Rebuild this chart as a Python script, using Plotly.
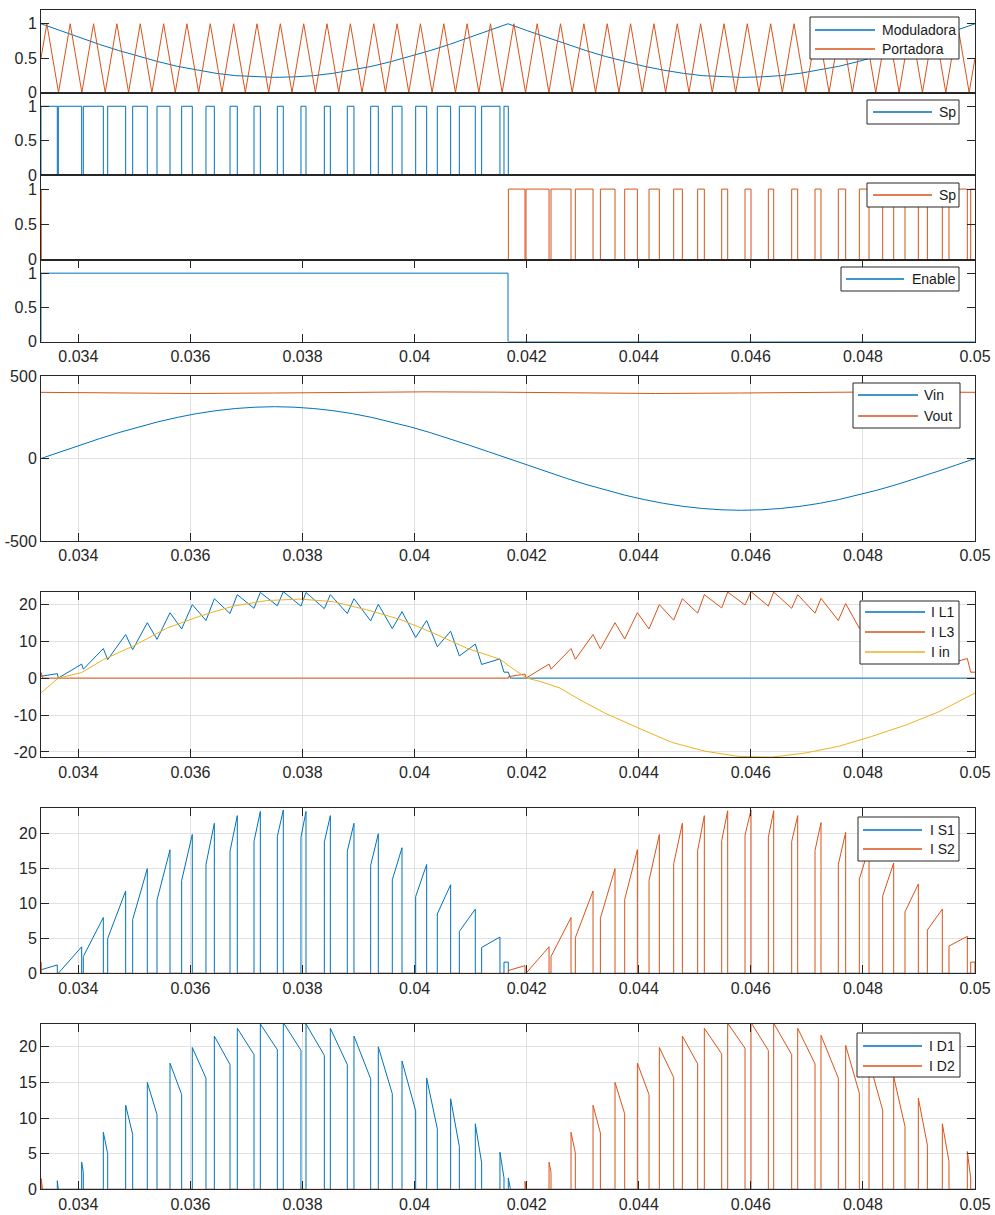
import plotly.graph_objects as go

# ------------------------------------------------------------------ data
T_START = 0.033333
T_END = 0.05

x_tick_vals = [0.034, 0.036, 0.038, 0.04, 0.042, 0.044, 0.046, 0.048, 0.05]
x_tick_text = ["0.034", "0.036", "0.038", "0.04", "0.042", "0.044", "0.046", "0.048", "0.05"]

# sample times used for the slow sinusoidal signals (read every 1/48 of the grid period)
slow_t = [0.033333, 0.033681, 0.034028, 0.034375, 0.034722, 0.035069, 0.035417, 0.035764,
          0.036111, 0.036458, 0.036806, 0.037153, 0.0375, 0.037847, 0.038194, 0.038542,
          0.038889, 0.039236, 0.039583, 0.039931, 0.040278, 0.040625, 0.040972, 0.041319,
          0.041667, 0.042014, 0.042361, 0.042708, 0.043056, 0.043403, 0.04375, 0.044097,
          0.044444, 0.044792, 0.045139, 0.045486, 0.045833, 0.046181, 0.046528, 0.046875,
          0.047222, 0.047569, 0.047917, 0.048264, 0.048611, 0.048958, 0.049306, 0.049653, 0.05]

# Panel 1: modulating signal and triangular carrier
moduladora = [1.0, 0.898, 0.80, 0.70, 0.61, 0.525, 0.45, 0.381, 0.325, 0.279, 0.245, 0.227,
              0.22, 0.227, 0.245, 0.279, 0.325, 0.381, 0.45, 0.525, 0.61, 0.70, 0.80, 0.898,
              1.0, 0.898, 0.80, 0.70, 0.61, 0.525, 0.45, 0.381, 0.325, 0.279, 0.245, 0.227,
              0.22, 0.227, 0.245, 0.279, 0.325, 0.381, 0.45, 0.525, 0.61, 0.70, 0.80, 0.898, 1.0]
carrier_start = 0.5
carrier_end = 0.5
carrier_peak_t = [0.033437, 0.033854, 0.034271, 0.034687, 0.035104, 0.035521, 0.035937,
                  0.036354, 0.036771, 0.037187, 0.037604, 0.038021, 0.038437, 0.038854,
                  0.039271, 0.039687, 0.040104, 0.040521, 0.040937, 0.041354, 0.041771,
                  0.042187, 0.042604, 0.043021, 0.043437, 0.043854, 0.044271, 0.044687,
                  0.045104, 0.045521, 0.045937, 0.046354, 0.046771, 0.047187, 0.047604,
                  0.048021, 0.048437, 0.048854, 0.049271, 0.049687]
carrier_trough_t = [0.033646, 0.034062, 0.034479, 0.034896, 0.035312, 0.035729, 0.036146,
                    0.036562, 0.036979, 0.037396, 0.037812, 0.038229, 0.038646, 0.039062,
                    0.039479, 0.039896, 0.040312, 0.040729, 0.041146, 0.041562, 0.041979,
                    0.042396, 0.042812, 0.043229, 0.043646, 0.044062, 0.044479, 0.044896,
                    0.045312, 0.045729, 0.046146, 0.046562, 0.046979, 0.047396, 0.047812,
                    0.048229, 0.048646, 0.049062, 0.049479, 0.049896]

# Converter leg 1 (first half cycle): switching edges (on, off, on, off ...) and inductor current there
sp1_edges = [0.033333, 0.033624, 0.033642, 0.034059, 0.034088, 0.034445, 0.034523, 0.034844,
             0.034969, 0.035230, 0.035403, 0.035635, 0.035843, 0.036033, 0.036277, 0.036426,
             0.036706, 0.036836, 0.037134, 0.037247, 0.037550, 0.037657, 0.037972, 0.038062,
             0.038389, 0.038496, 0.038799, 0.038918, 0.039216, 0.039352, 0.039602, 0.039775,
             0.040019, 0.040215, 0.040405, 0.040643, 0.040798, 0.041083, 0.041196, 0.041523,
             0.041595, 0.041672]
il1_at_edges = [0.5, 1.2, 0.0, 3.8, 2.4, 8.0, 5.0, 11.8, 7.7, 15.0, 10.5, 17.7, 13.3, 19.9,
                15.6, 21.5, 17.5, 22.6, 18.9, 23.2, 19.6, 23.4, 19.5, 23.2, 18.8, 22.6, 17.5,
                21.5, 15.5, 20.0, 13.4, 18.0, 11.0, 15.6, 8.5, 12.7, 6.0, 9.2, 3.7, 5.2, 1.6, 1.6]
il1_zero_t = 0.04171          # inductor 1 current reaches zero after the last turn-off

# Converter leg 2 (second half cycle)
sp2_head_edges = [0.033333, 0.033336]   # tail of the previous pulse at the left edge
il3_head = [1.6, 1.5]
il3_head_zero_t = 0.03336
sp2_edges = [0.041673, 0.041970, 0.041988, 0.042399, 0.042434, 0.042791, 0.042868, 0.043184,
             0.043315, 0.043576, 0.043749, 0.043975, 0.044183, 0.044367, 0.044623, 0.044778,
             0.045051, 0.045170, 0.045480, 0.045587, 0.045896, 0.046003, 0.046312, 0.046408,
             0.046729, 0.046836, 0.047145, 0.047252, 0.047561, 0.047692, 0.047936, 0.048109,
             0.048353, 0.048549, 0.048751, 0.048989, 0.049150, 0.049417, 0.049536, 0.049863,
             0.049923]
il3_at_edges = [0.4, 1.1, 0.0, 3.8, 2.4, 8.0, 5.1, 11.8, 7.9, 15.0, 10.6, 17.7, 13.3, 19.9,
                15.7, 21.5, 17.6, 22.6, 19.0, 23.3, 19.8, 23.4, 19.5, 23.3, 18.9, 22.6, 17.6,
                21.6, 15.6, 20.2, 13.5, 18.0, 11.1, 15.8, 8.8, 12.8, 6.2, 9.2, 3.9, 5.3, 1.6]
il3_end = 1.6

# Panel 4: enable
enable_t = [0.033333, 0.041667]
enable_v = [1, 0]

# Panel 5: voltages
vin = [0, 41, 81, 120, 157, 191, 222, 249, 272, 290, 303, 311, 314, 311, 303, 290, 272, 249,
       222, 191, 157, 120, 81, 41, 0, -41, -81, -120, -157, -191, -222, -249, -272, -290,
       -303, -311, -314, -311, -303, -290, -272, -249, -222, -191, -157, -120, -81, -41, 0]
vout_t = [0.033333, 0.0345, 0.036, 0.0375, 0.039, 0.0402, 0.0415, 0.043, 0.0443,
          0.0458, 0.0473, 0.0485, 0.05]
vout = [401, 397, 394, 397, 402, 404, 402, 397, 394, 397, 402, 404, 401]

# Panel 6: input current
iin_t = [0.033333, 0.033494, 0.033642, 0.034059, 0.034445, 0.034980, 0.035576, 0.036170,
         0.036765, 0.037361, 0.037955, 0.038549, 0.039145, 0.039740, 0.040334, 0.040930,
         0.041524, 0.041702, 0.041881, 0.042000, 0.042238, 0.042595, 0.042952, 0.043398,
         0.043992, 0.044588, 0.045182, 0.045777, 0.046372, 0.046967, 0.047561, 0.048156,
         0.048751, 0.049345, 0.05]
iin = [-4.0, -2.0, 0.0, 1.5, 5.0, 8.7, 13.5, 16.8, 19.5, 21.0, 21.4, 20.7, 18.5, 15.9, 12.2,
       8.1, 5.1, 3.1, 1.35, 0.0, -0.9, -2.7, -5.9, -9.5, -13.5, -17.4, -19.8, -21.2, -21.4,
       -20.3, -18.5, -15.8, -12.8, -9.2, -4.05]

# ------------------------------------------------------------------ styles
BLUE = "#0072BD"
ORANGE = "#D95319"
YELLOW = "#EDB120"
AX = "#262626"
GRID = "#e1e1e1"
FONT = "Liberation Sans, Arial, Helvetica, sans-serif"
W, H = 995, 1215
XL, XR = 41 / W, 975 / W

# panel (top_px, bottom_px) and y ranges
panels = [
    (10, 92.5, [0, 1.2]),
    (92.5, 175, [0, 1.2]),
    (175, 259.5, [0, 1.2]),
    (259.5, 341.5, [0, 1.2]),
    (376, 541, [-500, 500]),
    (591.7, 757.3, [-21.45, 23.4]),
    (808.3, 973.3, [0, 23.65]),
    (1024, 1189.3, [0, 23.2]),
]

# legend boxes: (left, top, right, bottom, line_x0, line_x1, text_x, [row y...]) in pixels
legend_boxes = [
    (810, 17, 959, 59, 815, 875, 880, [30, 49]),
    (867, 100, 959, 124, 873, 932, 937, [112]),
    (867, 183, 959, 207, 873, 932, 937, [195]),
    (841, 267, 959, 291, 846, 904, 910, [279]),
    (853, 383, 960, 428, 858, 918, 922, [395, 416]),
    (860, 601, 959, 664, 865, 925, 929, [612, 632, 652]),
    (858, 817, 959, 861, 863, 922, 928, [830, 849]),
    (857, 1033, 960, 1077, 863, 922, 927, [1046, 1066]),
]


# ------------------------------------------------------------------ helpers
def converter(edges, vals, dcm_zero, end_val):
    """Build inductor, switch, diode current and gate signal polylines from switching edges."""
    n = len(edges)
    il_x, il_y = [], []
    sw_x, sw_y = [T_START], [0.0]
    d_x, d_y = [T_START], [0.0]
    g_x, g_y = [T_START], [0]
    for i in range(n):
        t, v = edges[i], vals[i]
        last = i == n - 1
        t_next = T_END if last else edges[i + 1]
        il_x.append(t)
        il_y.append(v)
        if i % 2 == 0:
            v_next = end_val if last else vals[i + 1]
            sw_x += [t, t, t_next, t_next]
            sw_y += [0, v, v_next, 0]
            g_x += [t, t]
            g_y += [0, 1]
            if last:
                il_x.append(T_END)
                il_y.append(end_val)
                g_x.append(T_END)
                g_y.append(1)
        else:
            g_x += [t, t]
            g_y += [1, 0]
            if i in dcm_zero:
                tz = dcm_zero[i]
                d_x += [t, t, tz]
                d_y += [0, v, 0]
                il_x += [tz, t_next]
                il_y += [0, 0]
            else:
                v_next = vals[i + 1]
                d_x += [t, t, t_next, t_next]
                d_y += [0, v, v_next, 0]
            if last:
                g_x.append(T_END)
                g_y.append(0)
    sw_x.append(T_END)
    sw_y.append(0)
    d_x.append(T_END)
    d_y.append(0)
    return (il_x, il_y), (sw_x, sw_y), (d_x, d_y), (g_x, g_y)


convA = converter(sp1_edges, il1_at_edges, {len(sp1_edges) - 1: il1_zero_t}, 0.0)
convB = converter(sp2_head_edges + sp2_edges, il3_head + il3_at_edges, {1: il3_head_zero_t}, il3_end)

carrier_x = [T_START]
carrier_y = [carrier_start]
for p, tr in zip(carrier_peak_t, carrier_trough_t):
    carrier_x += [p, tr]
    carrier_y += [1, 0]
carrier_x.append(T_END)
carrier_y.append(carrier_end)

enable_x = [T_START, enable_t[0], enable_t[1], enable_t[1], T_END]
enable_y = [0, enable_v[0], enable_v[0], enable_v[1], enable_v[1]]

fig = go.Figure()
legend_entries = {i: [] for i in range(1, 9)}


def add(i, x, y, name, color):
    fig.add_trace(go.Scatter(
        x=x, y=y, mode="lines", name=name,
        line=dict(color=color, width=1),
        xaxis=f"x{i}", yaxis=f"y{i}",
        showlegend=False, hoverinfo="skip",
    ))
    legend_entries[i].append((name, color))


add(1, slow_t, moduladora, "Moduladora", BLUE)
add(1, carrier_x, carrier_y, "Portadora", ORANGE)
add(2, convA[3][0], convA[3][1], "Sp", BLUE)
add(3, convB[3][0], convB[3][1], "Sp", ORANGE)
add(4, enable_x, enable_y, "Enable", BLUE)
add(5, slow_t, vin, "Vin", BLUE)
add(5, vout_t, vout, "Vout", ORANGE)
add(6, convA[0][0], convA[0][1], "I L1", BLUE)
add(6, convB[0][0], convB[0][1], "I L3", ORANGE)
add(6, iin_t, iin, "I in", YELLOW)
add(7, convA[1][0], convA[1][1], "I S1", BLUE)
add(7, convB[1][0], convB[1][1], "I S2", ORANGE)
add(8, convA[2][0], convA[2][1], "I D1", BLUE)
add(8, convB[2][0], convB[2][1], "I D2", ORANGE)

tickfont = dict(family=FONT, size=16, color=AX)
y_ticks = [
    ([0, 0.5, 1], ["0", "0.5", "1"]),
    ([0, 0.5, 1], ["0", "0.5", "1"]),
    ([0, 0.5, 1], ["0", "0.5", "1"]),
    ([0, 0.5, 1], ["0", "0.5", "1"]),
    ([-500, 0, 500], ["-500", "0", "500"]),
    ([-20, -10, 0, 10, 20], ["-20", "-10", "0", "10", "20"]),
    ([0, 5, 10, 15, 20], ["0", "5", "10", "15", "20"]),
    ([0, 5, 10, 15, 20], ["0", "5", "10", "15", "20"]),
]

layout = dict(
    width=W, height=H, autosize=False,
    margin=dict(l=0, r=0, t=0, b=0, pad=0, autoexpand=False),
    paper_bgcolor="white", plot_bgcolor="white",
    font=dict(family=FONT, size=16, color=AX),
    showlegend=False,
)
for i, (top, bot, yr) in enumerate(panels, start=1):
    has_x_ticks = i >= 4
    grid = i >= 5
    layout[f"xaxis{i}"] = dict(
        domain=[XL, XR], range=[T_START, T_END], anchor=f"y{i}",
        showline=True, linecolor=AX, linewidth=1,
        mirror="ticks" if has_x_ticks else True,
        ticks="inside" if has_x_ticks else "", ticklen=8, tickcolor=AX, tickwidth=1,
        tickvals=x_tick_vals, ticktext=x_tick_text,
        showticklabels=has_x_ticks, tickfont=tickfont,
        showgrid=grid, gridcolor=GRID, gridwidth=1, zeroline=False,
        automargin=False, fixedrange=True,
    )
    tv, tt = y_ticks[i - 1]
    layout[f"yaxis{i}"] = dict(
        domain=[1 - bot / H, 1 - top / H], range=yr, anchor=f"x{i}",
        showline=True, linecolor=AX, linewidth=1, mirror="ticks",
        ticks="inside", ticklen=8, tickcolor=AX, tickwidth=1,
        tickvals=tv, ticktext=tt, tickfont=tickfont,
        showgrid=grid, gridcolor=GRID, gridwidth=1, zeroline=False,
        automargin=False, fixedrange=True,
    )

# legends drawn as boxes with sample lines and text, one per panel (top-right corner)
shapes, annotations = [], []
for i, (l, t, r, b, lx0, lx1, tx, rows) in enumerate(legend_boxes, start=1):
    shapes.append(dict(type="rect", xref="paper", yref="paper", layer="above",
                       x0=l / W, x1=r / W, y0=1 - b / H, y1=1 - t / H,
                       fillcolor="white", line=dict(color=AX, width=1)))
    for (name, color), ry in zip(legend_entries[i], rows):
        shapes.append(dict(type="line", xref="paper", yref="paper", layer="above",
                           x0=lx0 / W, x1=lx1 / W, y0=1 - ry / H, y1=1 - ry / H,
                           line=dict(color=color, width=1.5)))
        annotations.append(dict(xref="paper", yref="paper", x=tx / W, y=1 - ry / H,
                                xanchor="left", yanchor="middle", showarrow=False,
                                text=name, font=dict(family=FONT, size=14, color="#1a1a1a")))
layout["shapes"] = shapes
layout["annotations"] = annotations

fig.update_layout(**layout)
fig.write_html("out.html",
               post_script="document.documentElement.style.margin='0';document.body.style.margin='0';")
